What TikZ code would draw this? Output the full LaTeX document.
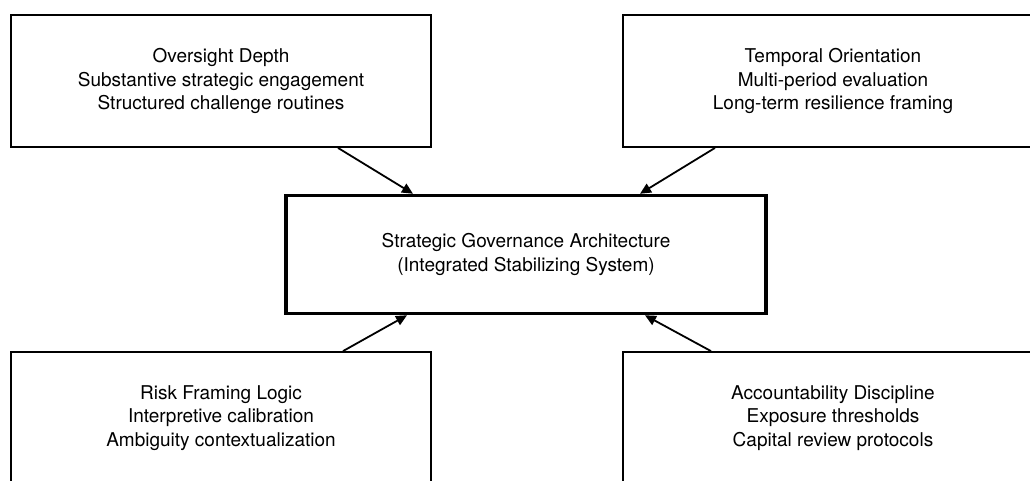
\documentclass[tikz,border=0pt]{standalone}
\usepackage{fontspec}
\setmainfont{TeX Gyre Heros}
\usetikzlibrary{arrows.meta}

\begin{document}
\begin{tikzpicture}[x=1pt, y=1pt,
  factor/.style={draw, line width=1.8pt, minimum width=420, minimum height=132, align=center, font=\fontsize{19}{23.5}\selectfont},
  core/.style={draw, line width=3.5pt, minimum width=480, minimum height=118, align=center, font=\fontsize{19}{23.5}\selectfont},
  feed/.style={line width=1.8pt, -{Triangle[length=11pt, width=10pt]}}]
\useasboundingbox (0,0) rectangle (1030,-480);
\node[core] (arch) at (526,-254.5) {Strategic Governance Architecture\\(Integrated Stabilizing System)};
\node[factor] (oversight) at (221,-81) {Oversight Depth\\Substantive strategic engagement\\Structured challenge routines};
\node[factor] (temporal) at (833,-81) {Temporal Orientation\\Multi-period evaluation\\Long-term resilience framing};
\node[factor] (risk) at (221,-418) {Risk Framing Logic\\Interpretive calibration\\Ambiguity contextualization};
\node[factor] (account) at (833,-418) {Accountability Discipline\\Exposure thresholds\\Capital review protocols};
\draw[feed] ([xshift=117]oversight.south) -- ([xshift=-113]arch.north);
\draw[feed] ([xshift=-118]temporal.south) -- ([xshift=114]arch.north);
\draw[feed] ([xshift=122]risk.north) -- ([xshift=-119]arch.south);
\draw[feed] ([xshift=-122]account.north) -- ([xshift=119]arch.south);
\end{tikzpicture}
\end{document}
